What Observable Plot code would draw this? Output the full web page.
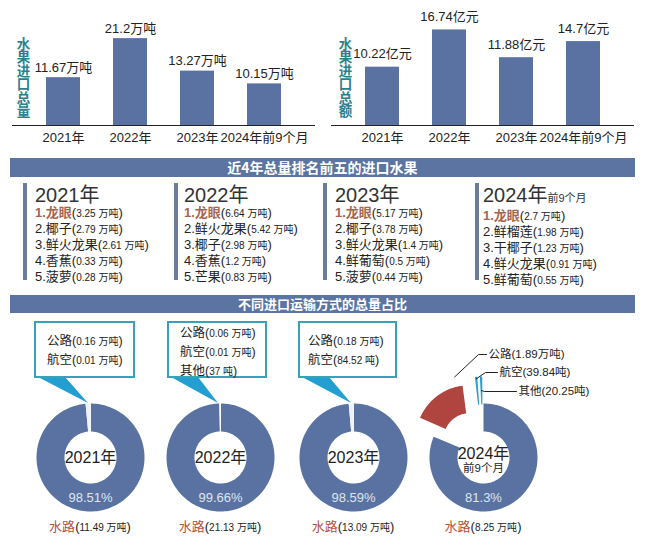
<!DOCTYPE html>
<html>
<head>
<meta charset="utf-8">
<script src="https://cdn.jsdelivr.net/npm/d3@7"></script>
<script src="https://cdn.jsdelivr.net/npm/@observablehq/plot@0.6"></script>
<style>
body{margin:0;background:#fff;}
#root{position:relative;width:647px;height:552px;overflow:hidden;background:#fff;font-family:"Liberation Sans","Noto Sans CJK SC",sans-serif;color:#222;}
#root > div, #root > figure, #root > svg{position:absolute;margin:0;}
.band{left:10px;width:625px;background:#5b74a2;color:#fff;font-weight:bold;text-align:center;font-family:"Noto Sans CJK SC",sans-serif;}
.vbar{top:183px;width:4px;height:97px;background:#6b7c9b;}
.list{top:185px;white-space:nowrap;}
.yr{font-size:20px;line-height:20px;color:#333;font-weight:normal;}
.yr .sub{font-size:11px;}
.item{font-size:13px;line-height:15px;}
.small{font-size:10px;}
.first{color:#a4654f;font-weight:bold;}
.box{top:321px;height:53px;border:2px solid #3aa2b6;background:#fff;font-size:12.5px;line-height:18px;white-space:nowrap;}
.ptr{background:#229fd0;}
.water{top:519px;font-size:13px;line-height:15px;white-space:nowrap;transform:translateX(-50%);}
.water .w{color:#b5513b;}
</style>
</head>
<body>
<div id="root"></div>
<script>
// ---------- data ----------
const categories = ["2021年", "2022年", "2023年", "2024年前9个月"];
const importVolume = [11.67, 21.2, 13.27, 10.15];   // 万吨
const importValue = [10.22, 16.74, 11.88, 14.7];    // 亿元

const topYears = ["2021年", "2022年", "2023年", "2024年"];
const topYearSub = ["", "", "", "前9个月"];
const topNames = [
  ["龙眼", "椰子", "鲜火龙果", "香蕉", "菠萝"],
  ["龙眼", "鲜火龙果", "椰子", "香蕉", "芒果"],
  ["龙眼", "椰子", "鲜火龙果", "鲜葡萄", "菠萝"],
  ["龙眼", "鲜榴莲", "干椰子", "鲜火龙果", "鲜葡萄"]
];
const topValues = [
  [3.25, 2.79, 2.61, 0.33, 0.28],
  [6.64, 5.42, 2.98, 1.2, 0.83],
  [5.17, 3.78, 1.4, 0.5, 0.44],
  [2.7, 1.98, 1.23, 0.91, 0.55]
];

const modes = ["水路", "公路", "航空", "其他"];
const waterT = [11.49, 21.13, 13.09, 8.25];       // 万吨
const roadT = [0.16, 0.06, 0.18, 1.89];           // 万吨
const airT = [0.01, 0.01, 0.008452, 0.003984];    // 万吨
const otherT = [0, 0.0037, 0, 0.002025];          // 万吨
const waterShare = ["98.51%", "99.66%", "98.59%", "81.3%"];
const donutYears = ["2021年", "2022年", "2023年", "2024年"];
const donutSub = ["", "", "", "前9个月"];
const exploded = [false, false, false, true];

// ---------- helpers ----------
const root = document.getElementById("root");
const FONT = '"Liberation Sans","Noto Sans CJK SC",sans-serif';
function add(html, cls, style) {
  const d = document.createElement("div");
  if (cls) d.className = cls;
  d.style.cssText = style;
  d.innerHTML = html;
  root.appendChild(d);
  return d;
}
function place(node, left, top) {
  node.style.position = "absolute";
  node.style.left = left + "px";
  node.style.top = top + "px";
  node.style.margin = "0";
  root.appendChild(node);
}
function fmt(v) { return v >= 0.01 ? `${v}万吨` : `${+(v * 1e4).toFixed(2)}吨`; }
function fmtHtml(v) {
  return v >= 0.01 ? `(<span class="small">${v} 万吨</span>)` : `(<span class="small">${+(v * 1e4).toFixed(2)} 吨</span>)`;
}

// ---------- bar charts ----------
function barChart(vals, unit, title, o) {
  const data = categories.map((c, i) => ({c, v: vals[i]}));
  return Plot.plot({
    width: o.width, height: 150,
    marginTop: 0, marginBottom: 25, marginLeft: o.ml, marginRight: o.mr,
    style: {background: "transparent", fontFamily: FONT, fontSize: "13px", color: "#222", overflow: "visible"},
    x: {domain: categories, padding: 0.5, label: null, tickSize: 0, tickPadding: 7},
    y: {domain: [0, o.ymax], axis: null},
    marks: [
      Plot.barY(data, {x: "c", y: "v", fill: "#5a72a1"}),
      Plot.ruleY([0], {stroke: "#222", strokeWidth: 1.2}),
      Plot.text(data, {x: "c", y: "v", text: d => d.v + unit, dy: o.dy, fontSize: 13, fill: "#222"}),
      Plot.text([title], {frameAnchor: "left", text: d => d, dx: o.tdx, dy: 15, textAnchor: "middle",
        lineHeight: 1, fontSize: 13.5, fontWeight: "bold", fill: "#2b7f8e"})
    ]
  });
}
place(barChart(importVolume, "万吨", "水\n果\n进\n口\n总\n量", {width: 320, ml: 12, mr: 5, ymax: 30.5, dy: -10, tdx: 11}), 0, 0);
place(barChart(importValue, "亿元", "水\n果\n进\n口\n总\n额", {width: 327, ml: 11, mr: 13, ymax: 21.9, dy: -13, tdx: 14}), 320, 0);

// ---------- top five lists ----------
add("近4年总量排名前五的进口水果", "band", "top:158px;height:19px;line-height:19px;font-size:14px;");
const barX = [23, 174, 323, 475];
const textX = [35, 184, 335, 483];
topYears.forEach((y, i) => {
  add("", "vbar", `left:${barX[i]}px;`);
  let html = `<div class="yr">${y}${topYearSub[i] ? `<span class="sub">${topYearSub[i]}</span>` : ""}</div>`;
  topNames[i].forEach((n, k) => {
    const head = k === 0 ? `<span class="first">${k + 1}.${n}</span>` : `${k + 1}.${n}`;
    html += `<div class="item">${head}${fmtHtml(topValues[i][k])}</div>`;
  });
  add(html, "list", `left:${textX[i]}px;`);
});

// ---------- transport donuts ----------
add("不同进口运输方式的总量占比", "band", "top:295px;height:18px;line-height:18px;font-size:13px;");

const donutCx = [90, 220, 353, 483];
const donutCy = 457;
const R_OUT = 54, R_IN = 26;
const colors = {"水路": "#5a72a1", "公路": "#b0443f", "航空": "#2a9fc9", "其他": "#2a9fc9"};
const explodeDist = {"公路": 23, "航空": 27, "其他": 27};

function pt(a, r, off) {
  const t = a * Math.PI / 180;
  return {x: r * Math.sin(t) + off[0], y: r * Math.cos(t) + off[1]};
}
function arcPts(a0, a1, r0, r1, off) {
  const pts = [];
  const n = Math.max(2, Math.ceil((a1 - a0) / 2));
  for (let j = 0; j <= n; j++) pts.push(pt(a0 + (a1 - a0) * j / n, r1, off));
  for (let j = n; j >= 0; j--) pts.push(pt(a0 + (a1 - a0) * j / n, r0, off));
  return pts;
}

const labelLayout = {"公路": {tx: 5, ty: 103, ex: -5}, "航空": {tx: 16, ty: 85, ex: 2}, "其他": {tx: 35, ty: 66, ex: 1}};

for (let i = 0; i < 4; i++) {
  const vals = [waterT[i], roadT[i], airT[i], otherT[i]];
  const total = d3.sum(vals);
  let sweeps = vals.map(v => v / total * 360);
  const ex = exploded[i];
  if (ex) {
    const MIN = 3.5;
    let extra = 0;
    sweeps = sweeps.map((s, k) => (k > 1 && s > 0 && s < MIN) ? (extra += MIN - s, MIN) : s);
    sweeps[1] -= extra;
  }
  const marks = [];
  const anchors = [];
  let a = 0;
  sweeps.forEach((s, k) => {
    if (s <= 0) return;
    const m = modes[k];
    let a0 = a, a1 = a + s;
    a = a1;
    let off = [0, 0];
    let fill = colors[m];
    if (k > 0) {
      if (ex) {
        a0 += 0.5; a1 -= 0.5;
        const mid = (a0 + a1) / 2, d = explodeDist[m];
        off = [d * Math.sin(mid * Math.PI / 180), d * Math.cos(mid * Math.PI / 180)];
        let anc;
        if (k === 1) anc = pt(a1 - 6, R_OUT + 10, off);
        else if (k === 2) anc = pt(mid, R_OUT - 2, off);
        else anc = pt(mid, R_IN + 14, off);
        const L = labelLayout[m];
        anchors.push({m, label: `${m}(${fmt(vals[k])})`, pts: [anc, {x: L.ex, y: L.ty}, {x: L.tx - 2, y: L.ty}], tx: L.tx, ty: L.ty});
      } else {
        fill = "#eef1f6";
      }
    }
    marks.push(Plot.line(arcPts(a0, a1, R_IN, R_OUT, off), {x: "x", y: "y", fill, stroke: k > 0 && !ex ? "#ffffff" : "none", strokeWidth: 0.6}));
  });
  // center + share text
  const yText = donutSub[i] ? [{t: donutYears[i], y: 4, s: 16}, {t: donutSub[i], y: -11, s: 11.5}] : [{t: donutYears[i], y: 0, s: 16}];
  marks.push(Plot.text(yText, {x: () => 0, y: "y", text: "t", fontSize: d => d.s, fill: "#222"}));
  marks.push(Plot.text([waterShare[i]], {x: () => 0, y: () => -40, text: d => d, fontSize: 13, fill: "#dfe5f0"}));
  anchors.forEach(an => {
    marks.push(Plot.line(an.pts, {x: "x", y: "y", stroke: "#222", strokeWidth: 1}));
    marks.push(Plot.text([an], {x: "tx", y: "ty", text: "label", textAnchor: "start", fontSize: 11.5, fill: "#222"}));
  });
  const fig = Plot.plot({
    width: 240, height: 230, margin: 0,
    style: {background: "transparent", fontFamily: FONT, overflow: "visible"},
    x: {domain: [-120, 120], axis: null},
    y: {domain: [-100, 130], axis: null},
    marks
  });
  place(fig, donutCx[i] - 120, donutCy - 130);

  // water label below
  add(`<span class="w">水路</span>${fmtHtml(waterT[i])}`, "water", `left:${donutCx[i]}px;`);
}

// ---------- callout boxes (2021–2023) ----------
const boxLeft = [34, 167, 298], boxW = [97, 96, 95], boxPad = [[9, 11], [1, 11], [9, 8]];
for (let i = 0; i < 3; i++) {
  const lines = [["公路", roadT[i]], ["航空", airT[i]], ["其他", otherT[i]]].filter(d => d[1] > 0);
  const html = lines.map(([m, v]) => `<div>${m}${fmtHtml(v)}</div>`).join("");
  // pointer wedge toward the small slices at the top of the donut
  const apexX = donutCx[i] - 2, apexY = donutCy - R_OUT;
  const b0 = boxLeft[i] + 4, b1 = boxLeft[i] + 31;
  const l = b0, t = 377, w = apexX - b0, h = apexY - t;
  add("", "ptr", `left:${l}px;top:${t}px;width:${w}px;height:${h}px;clip-path:polygon(0 0, ${b1 - b0}px 0, ${w}px ${h}px);`);
  add(html, "box", `left:${boxLeft[i]}px;width:${boxW[i] - boxPad[i][1]}px;padding-top:${boxPad[i][0]}px;padding-left:${boxPad[i][1]}px;height:${53 - boxPad[i][0]}px;`);
}
</script>
</body>
</html>
